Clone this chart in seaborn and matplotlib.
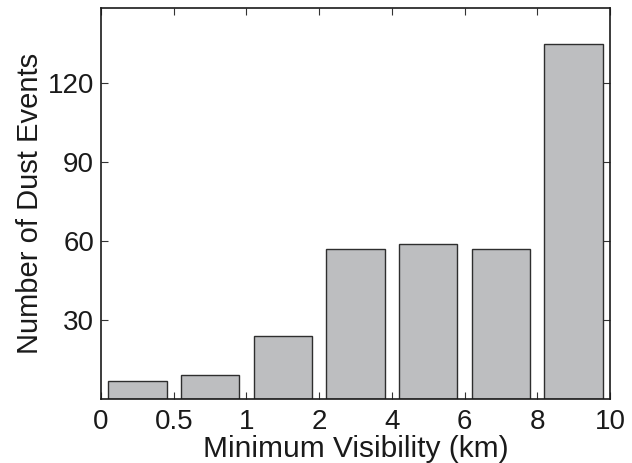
import matplotlib
matplotlib.use("Agg")
import matplotlib.pyplot as plt
import seaborn as sns
import pandas as pd

# Visibility bin edges (km) and number of dust events per bin
bin_edges = ["0", "0.5", "1", "2", "4", "6", "8", "10"]
bin_names = ["0-0.5", "0.5-1", "1-2", "2-4", "4-6", "6-8", "8-10"]
event_counts = [7, 9, 24, 57, 59, 57, 135]
y_ticks = [30, 60, 90, 120]

df = pd.DataFrame({"bin": bin_names, "count": event_counts})

sns.set_theme(style="white")
plt.rcParams["font.family"] = ["Liberation Sans", "DejaVu Sans"]

fig = plt.figure(figsize=(6.32, 4.63), dpi=100)
ax = fig.add_axes([0.160, 0.138, 0.805, 0.844])

sns.barplot(data=df, x="bin", y="count", order=bin_names, color="#bdbec0",
            saturation=1, width=0.8, edgecolor="#2e2e2e", linewidth=1.0, ax=ax)

ax.set_xlim(-0.5, len(bin_names) - 0.5)
ax.set_ylim(0, 148.5)

# Ticks sit on the bin edges, between the bars
ax.set_xticks([i - 0.5 for i in range(len(bin_edges))])
ax.set_xticklabels(bin_edges)
ax.set_yticks(y_ticks)
ax.set_yticklabels([str(v) for v in y_ticks])

ax.tick_params(axis="both", which="both", direction="in", length=5, width=0.8,
               color="#333333", top=True, right=True, bottom=True, left=True,
               labelsize=20, labelcolor="#1a1a1a")
ax.tick_params(axis="x", pad=7)
ax.tick_params(axis="y", pad=5)

for side in ["left", "right", "top", "bottom"]:
    ax.spines[side].set_visible(True)
    ax.spines[side].set_color("#1a1a1a")
    ax.spines[side].set_linewidth(1.2)

ax.set_xlabel("Minimum Visibility (km)", fontsize=21.5, color="#1a1a1a", labelpad=0)
ax.set_ylabel("Number of Dust Events", fontsize=21, color="#1a1a1a", labelpad=3)

fig.savefig("out.png", dpi=100)
